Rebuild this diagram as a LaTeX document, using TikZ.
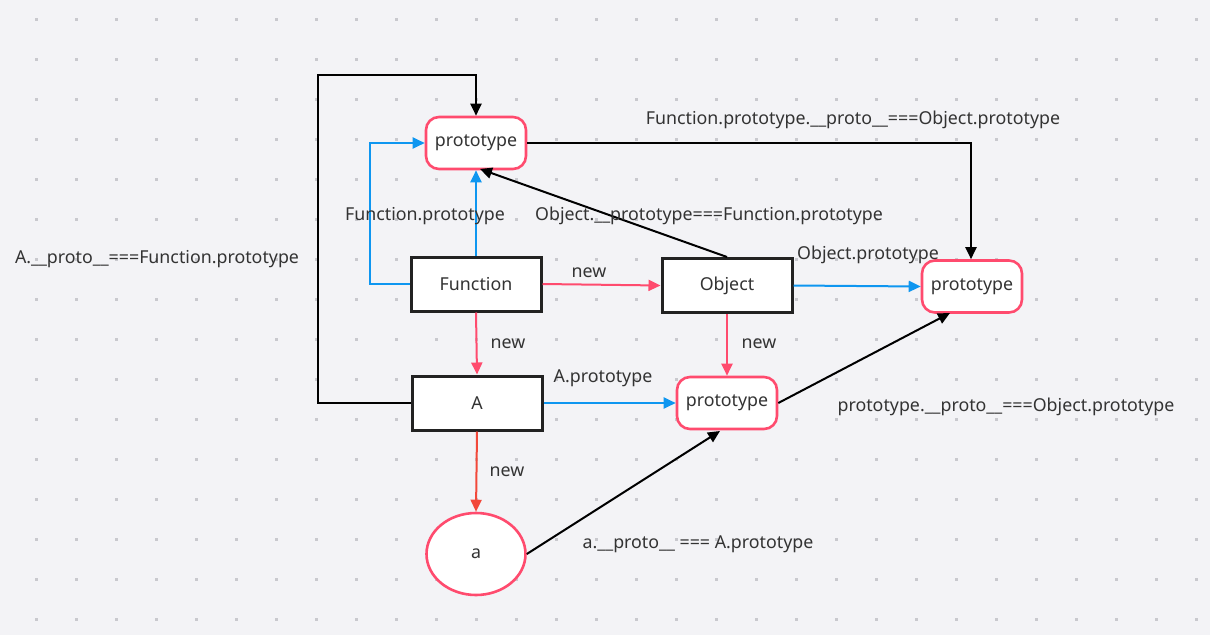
\documentclass[tikz,border=0pt]{standalone}
\usepackage{fontspec}
\setmainfont{Noto Sans}
\usetikzlibrary{arrows.meta,shapes.geometric}
\definecolor{bg}{HTML}{F3F3F6}
\definecolor{dotc}{HTML}{C9C9CE}
\definecolor{pinkr}{HTML}{FF4B6E}
\definecolor{bluec}{HTML}{0E96F0}
\definecolor{redo}{HTML}{F2483A}
\definecolor{txt}{HTML}{333333}
\definecolor{boxb}{HTML}{222222}
\tikzset{
  fnt/.style={font=\fontsize{17.8}{20}\selectfont,text=txt},
  lbl/.style={fnt,inner sep=0pt,yshift=-1.5pt},
  protobox/.style={fnt,draw=pinkr,line width=2.6pt,fill=white,rounded corners=13pt,minimum width=100pt,minimum height=52pt,inner sep=0pt},
  fbox/.style={fnt,draw=boxb,line width=3pt,fill=white,minimum width=130pt,minimum height=54pt,inner sep=0pt},
  instnode/.style={fnt,draw=pinkr,line width=2.6pt,fill=white,ellipse,minimum width=99pt,minimum height=82pt,inner sep=0pt},
  tip/.style={-{Triangle[length=12pt,width=11pt]}},
  blk/.style={tip,draw=black,line width=2pt},
  blu/.style={tip,draw=bluec,line width=2pt},
  rdl/.style={tip,draw=pinkr,line width=2pt},
  rdo/.style={tip,draw=redo,line width=2pt},
}
\begin{document}
\begin{tikzpicture}[x=1pt,y=-1pt]
\useasboundingbox (0,0) rectangle (1210,635);
\fill[bg] (0,0) rectangle (1210,635);
\foreach \i in {0,...,29}{\foreach \j in {0,...,15}{
  \fill[dotc] ({36+40*\i-1.5},{19+40*\j-1.5}) rectangle ++(3,3);
}}
% nodes
\node[protobox] (p1) at (476,143) {prototype};
\node[fbox] (fn) at (476,284) {Function};
\node[fbox] (obj) at (727,285.5) {Object};
\node[protobox] (p2) at (972,286.5) {prototype};
\node[fbox] (A) at (477,403) {A};
\node[protobox] (p3) at (727,403) {prototype};
\node[instnode] (a) at (476,554) {a};
% coordinates
\coordinate (c1) at (318,403);
\coordinate (c2) at (318,75);
\coordinate (c3) at (476,75);
\coordinate (c4) at (370,284);
\coordinate (c5) at (370,143);
\coordinate (c6) at (971,143);
\coordinate (e1) at (480,169);
\coordinate (e2) at (950,313);
\coordinate (e3) at (720,431);
% connectors
\draw[blk] (A.west) -- (c1) -- (c2) -- (c3) -- (p1.north);
\draw[blu] (fn.west) -- (c4) -- (c5) -- (p1.west);
\draw[blu] (fn.north) -- (p1.south);
\draw[blk] (obj.north) -- (e1);
\draw[blk] (p1.east) -- (c6) -- (p2.north -| c6);
\draw[rdl] (fn.east) -- (obj.west);
\draw[blu] (obj.east) -- (p2.west);
\draw[rdl] (fn.south) -- (A.north);
\draw[rdl] (obj.south) -- (p3.north);
\draw[blu] (A.east) -- (p3.west);
\draw[blk] (p3.east) -- (e2);
\draw[rdo] (A.south) -- (a.north);
\draw[blk] (a.east) -- (e3);
% labels
\node[lbl] (l1) at (157,258) {A.\_\_proto\_\_===Function.prototype};
\node[lbl] (l2) at (425,215) {Function.prototype};
\node[lbl] (l3) at (709,214) {Object.\_\_prototype===Function.prototype};
\node[lbl] (l4) at (853,118) {Function.prototype.\_\_proto\_\_===Object.prototype};
\node[lbl] (l5) at (589,271) {new};
\node[lbl] (l6) at (868,253) {Object.prototype};
\node[lbl] (l7) at (508,342) {new};
\node[lbl] (l8) at (759,342) {new};
\node[lbl] (l9) at (603,377) {A.prototype};
\node[lbl] (l10) at (1006,405) {prototype.\_\_proto\_\_===Object.prototype};
\node[lbl] (l11) at (507,470) {new};
\node[lbl] (l12) at (698,543) {a.\_\_proto\_\_ === A.prototype};
\end{tikzpicture}
\end{document}
